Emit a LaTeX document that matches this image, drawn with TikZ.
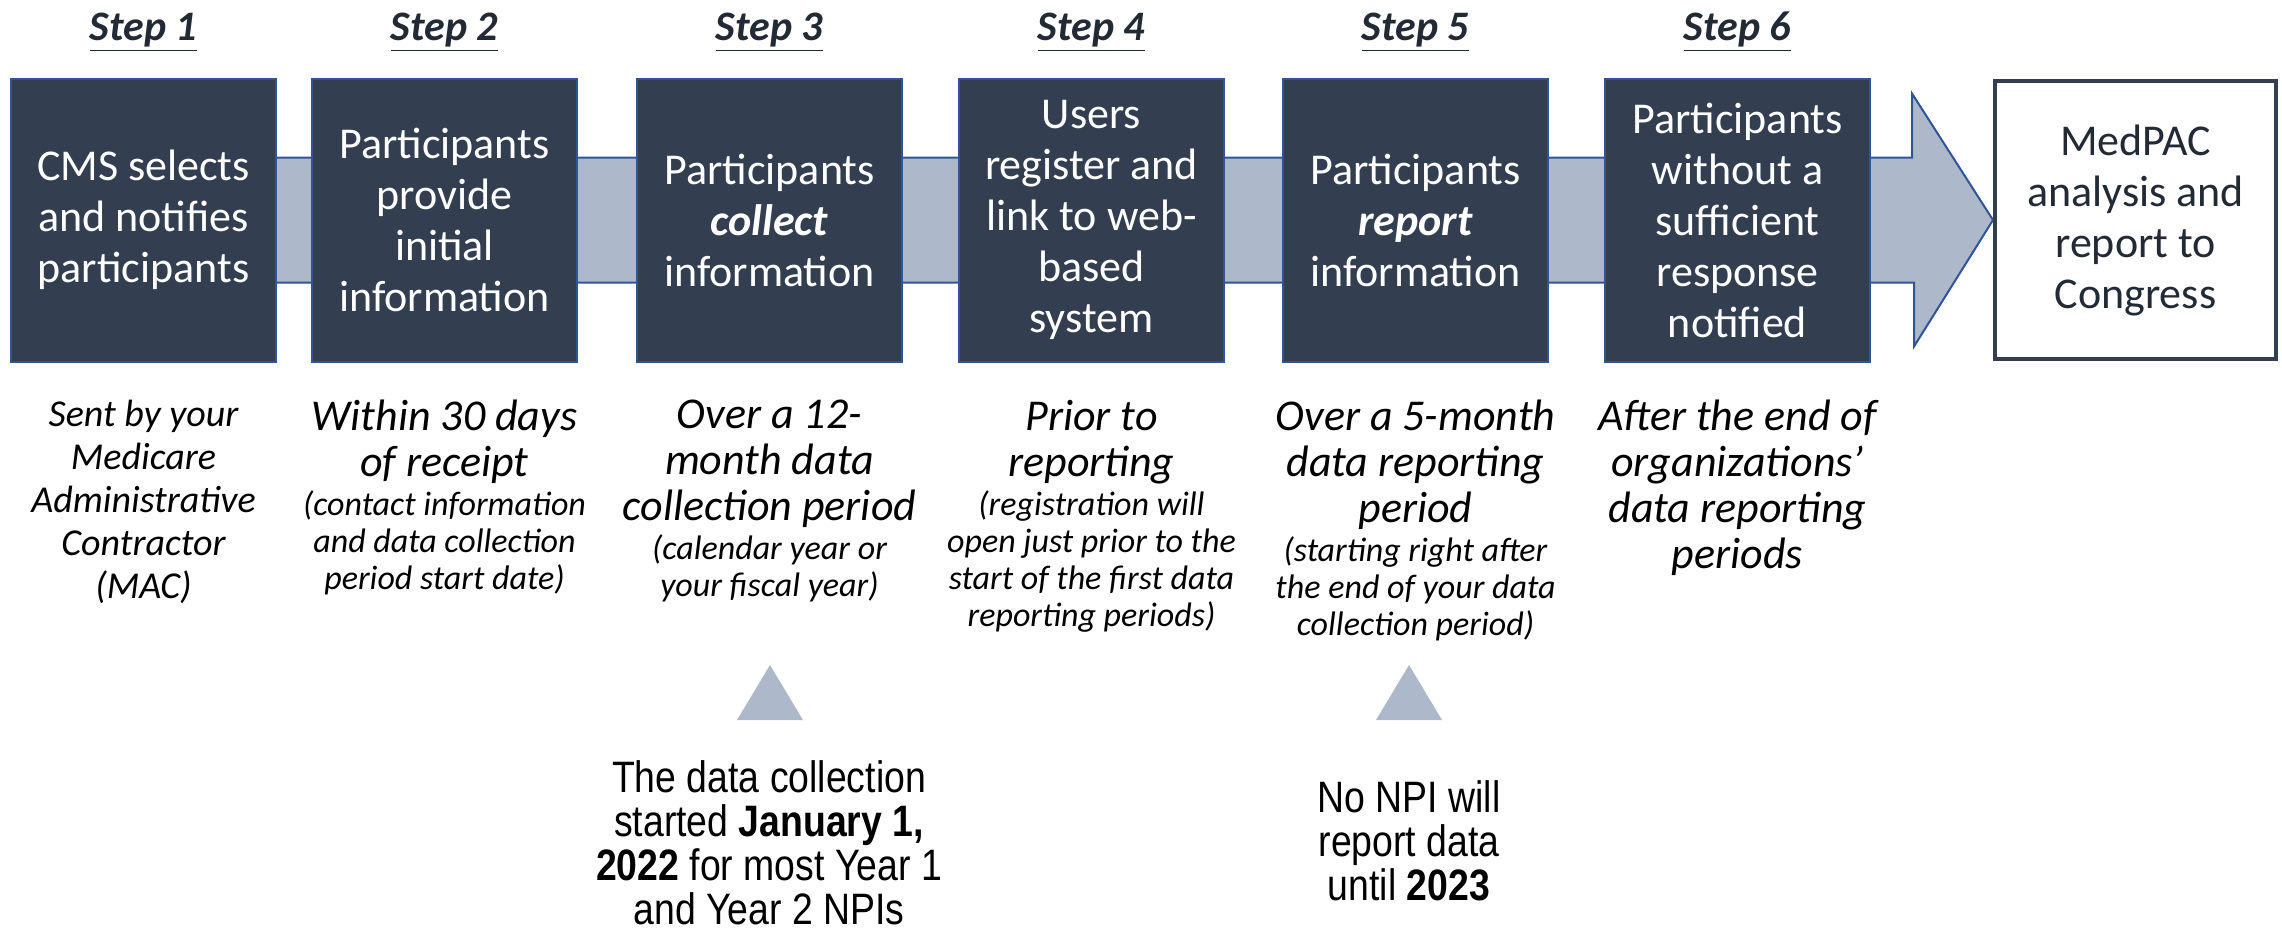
\documentclass[tikz,border=0pt]{standalone}
\usepackage{fontspec}
\setmainfont{Carlito}
\newfontfamily\notefont[FakeStretch=0.85]{Liberation Sans}
\usepackage{tikz}
\usetikzlibrary{positioning}
\usetikzlibrary{backgrounds}

\definecolor{boxfill}{HTML}{333F50}
\definecolor{boxline}{HTML}{2F5597}
\definecolor{bandfill}{HTML}{ADB9CA}
\definecolor{steptext}{HTML}{222A35}

\tikzset{
  stepbox/.style={draw=boxline, line width=1pt, fill=boxfill, text=white,
    minimum width=132.5pt, minimum height=141.5pt, align=center, inner sep=0pt,
    font=\fontsize{22}{25.5}\selectfont},
  endbox/.style={draw=boxfill, line width=2pt, fill=white, text=steptext,
    minimum width=140.5pt, minimum height=139pt, align=center, inner sep=0pt,
    font=\fontsize{22}{25.5}\selectfont},
  steplabel/.style={text=steptext, inner sep=0pt,
    font=\fontsize{21}{25}\selectfont\bfseries\itshape},
  timing/.style={anchor=north, align=center, inner sep=0pt,
    font=\fontsize{22}{23}\selectfont\itshape},
  timingsub/.style={align=center, inner sep=0pt,
    font=\fontsize{17}{18.5}\selectfont\itshape},
  remark/.style={align=center, inner sep=0pt,
    font=\notefont\fontsize{22}{22}\selectfont},
  band/.style={fill=bandfill, draw=boxline, line width=1pt},
  pointer/.style={fill=bandfill},
}

\begin{document}
\begin{tikzpicture}[x=0.5pt,y=-0.5pt]
\useasboundingbox (0,0) rectangle (2282,939);

\node[stepbox] (s1) at (143.5,220) {CMS selects\\and notifies\\participants};
\node[stepbox] (s2) at (444.5,220) {Participants\\provide\\initial\\information};
\node[stepbox] (s3) at (769.5,220) {Participants\\\textbf{\textit{collect}}\\information};
\node[stepbox] (s4) at (1091.5,220) {Users\\register and\\link to web-\\based\\system};
\node[stepbox] (s5) at (1415.5,220) {Participants\\\textbf{\textit{report}}\\information};
\node[stepbox] (s6) at (1737.5,220) {Participants\\without a\\sufficient\\response\\notified};
\node[endbox] (mp) at (2135.5,220) {MedPAC\\analysis and\\report to\\Congress};

\begin{scope}[on background layer]
\draw[band] (s1.center) ++(0,-62.5) -- ++(1768.5,0) -- ++(0,-64) -- (mp.west)
  -- ++(-79,126.5) -- ++(0,-64) -- ++(-1768.5,0) -- cycle;
\end{scope}

\foreach \i in {1,...,6}
  \node[steplabel, above=13pt of s\i] (lab\i) {\underline{Step \i}};

\node[timing, below=18.5pt of s1, font=\fontsize{19}{21.5}\selectfont\itshape] (t1)
  {Sent by your\\Medicare\\Administrative\\Contractor\\(MAC)};
\node[timing, below=18.5pt of s2] (t2) {Within 30 days\\of receipt};
\node[timingsub, below=3pt of t2] (u2) {(contact information\\and data collection\\period start date)};
\node[timing, below=18.5pt of s3] (t3) {Over a 12-\\month data\\collection period};
\node[timingsub, below=3pt of t3] (u3) {(calendar year or\\your fiscal year)};
\node[timing, below=18.5pt of s4] (t4) {Prior to\\reporting};
\node[timingsub, below=3pt of t4] (u4) {(registration will\\open just prior to the\\start of the first data\\reporting periods)};
\node[timing, below=18.5pt of s5] (t5) {Over a 5-month\\data reporting\\period};
\node[timingsub, below=3pt of t5] (u5) {(starting right after\\the end of your data\\collection period)};
\node[timing, below=18.5pt of s6] (t6) {After the end of\\organizations’\\data reporting\\periods};

\fill[pointer] (737,720) -- (770,665) -- (803,720) -- cycle;
\fill[pointer] (1376,720) -- (1409,665) -- (1442,720) -- cycle;

\node[remark] (n3) at (769,843) {The data collection\\started \textbf{January 1,}\\\textbf{2022} for most Year 1\\and Year 2 NPIs};
\node[remark] (n5) at (1409,841) {No NPI will\\report data\\until \textbf{2023}};
\end{tikzpicture}
\end{document}
